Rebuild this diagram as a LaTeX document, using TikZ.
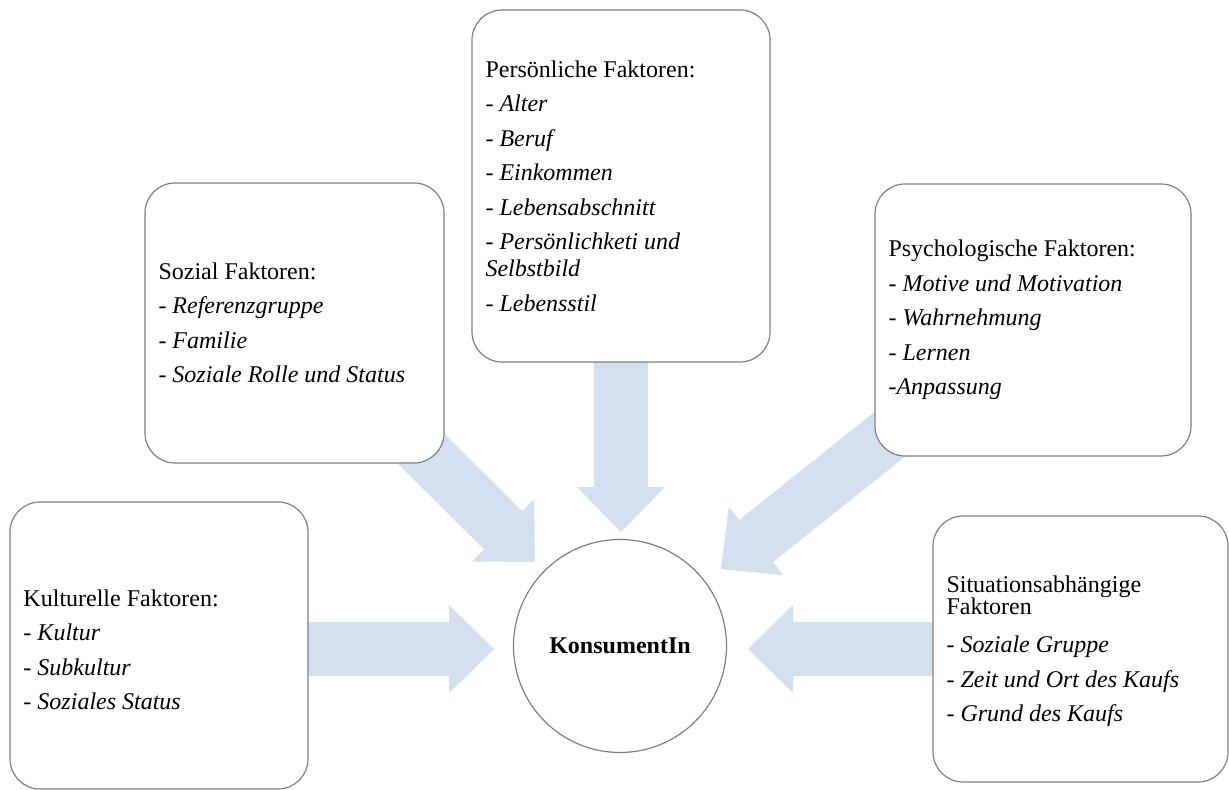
\documentclass[tikz,border=0pt]{standalone}
\usepackage{fontspec}
\setmainfont{Liberation Serif}
\usetikzlibrary{positioning,calc,backgrounds}

\definecolor{boxgray}{RGB}{128,128,128}
\definecolor{arrowblue}{RGB}{212,223,240}

% broad arrow from #1 to its tip #2
\newcommand{\blockarrow}[2]{%
  \coordinate (ab) at ($(#2)!22.5pt!(#1)$);
  \fill[arrowblue] ($(#1)!13.5pt!90:(#2)$) -- ($(ab)!13.5pt!90:(#2)$) -- ($(ab)!22pt!90:(#2)$) -- (#2)
    -- ($(ab)!22pt!-90:(#2)$) -- ($(ab)!13.5pt!-90:(#2)$) -- ($(#1)!13.5pt!-90:(#2)$) -- cycle;
}

\begin{document}
\begin{tikzpicture}[
    x=0.5pt, y=-0.5pt,
    factor/.style={draw=boxgray, fill=white, line width=0.6pt, rounded corners=15pt, inner xsep=6.75pt, align=flush left, font=\fontsize{12pt}{13.5pt}\selectfont},
    centre/.style={draw=boxgray, fill=white, line width=0.6pt, circle, minimum size=106.5pt, font=\fontsize{12pt}{13.5pt}\selectfont\bfseries}
]
    \useasboundingbox (0,0) rectangle (1229,790);

    \node[factor, text width=135.5pt, minimum height=176pt] (pers) at (621,186) {Persönliche Faktoren:\\[3.75pt]
        - \textit{Alter}\\[3.75pt]
        - \textit{Beruf}\\[3.75pt]
        - \textit{Einkommen}\\[3.75pt]
        - \textit{Lebensabschnitt}\\[3.75pt]
        - \textit{Persönlichketi und}\\ \textit{Selbstbild}\\[3.75pt]
        - \textit{Lebensstil}};
    \node[factor, text width=136pt, minimum height=140pt] (sozial) at (294.5,323) {Sozial Faktoren:\\[3.75pt]
        - \textit{Referenzgruppe}\\[3.75pt]
        - \textit{Familie}\\[3.75pt]
        - \textit{Soziale Rolle und Status}};
    \node[factor, text width=144.5pt, minimum height=136pt] (psych) at (1033,320) {Psychologische Faktoren:\\[3.75pt]
        - \textit{Motive und Motivation}\\[3.75pt]
        - \textit{Wahrnehmung}\\[3.75pt]
        - \textit{Lernen}\\[3.75pt]
        -\textit{Anpassung}};
    \node[factor, text width=135.5pt, minimum height=143.5pt] (kultur) at (159,645.5) {\rule{0pt}{12.5pt}Kulturelle Faktoren:\\[3.75pt]
        - \textit{Kultur}\\[3.75pt]
        - \textit{Subkultur}\\[3.75pt]
        - \textit{Soziales Status}};
    \node[factor, text width=134pt, minimum height=133pt] (situ) at (1080.5,649) {\rule{0pt}{10.5pt}Situationsabhängige\\[-2.5pt] Faktoren\\[5.75pt]
        - \textit{Soziale Gruppe}\\[3.75pt]
        - \textit{Zeit und Ort des Kaufs}\\[3.75pt]
        - \textit{Grund des Kaufs}};

    \node[centre] (konsument) at (620,646) {KonsumentIn};

    % arrow tips in front of the circle
    \coordinate (tipK) at (494,649);
    \coordinate (tipS) at (748,649);
    \coordinate (tipP) at (621,532);
    \coordinate (tipZ) at (535,562);
    \coordinate (tipY) at (721,569);

    \begin{scope}[on background layer]
        \blockarrow{kultur.center |- tipK}{tipK}
        \blockarrow{situ.center |- tipS}{tipS}
        \blockarrow{pers.center}{tipP}
        \blockarrow{sozial.center}{tipZ}
        \blockarrow{psych.center}{tipY}
    \end{scope}
\end{tikzpicture}
\end{document}
